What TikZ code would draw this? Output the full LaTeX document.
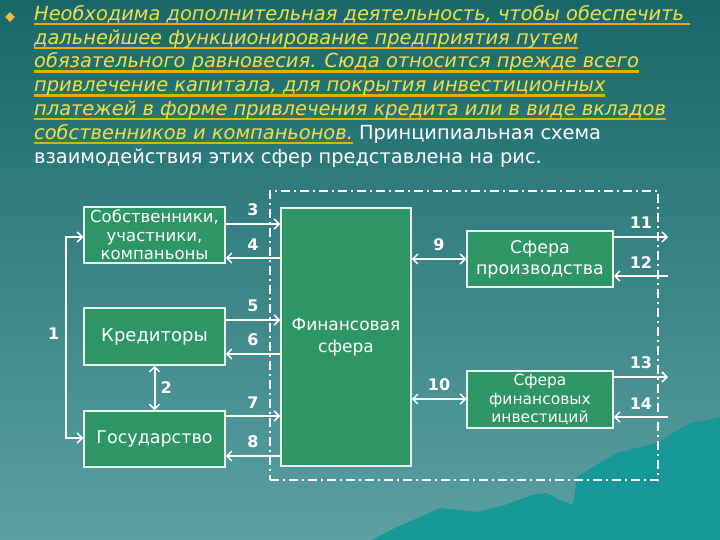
\documentclass[tikz,border=0pt]{standalone}
\usepackage{fontspec}
\setmainfont{DejaVu Sans}
\usetikzlibrary{arrows.meta, positioning, shapes.geometric}

\definecolor{bgtop}{RGB}{24,104,106}
\definecolor{bgbottom}{RGB}{92,160,162}
\definecolor{hillteal}{RGB}{22,152,152}
\definecolor{boxgreen}{RGB}{46,150,100}
\definecolor{boxline}{RGB}{232,244,236}
\definecolor{titleyellow}{RGB}{240,226,70}
\definecolor{lineorange}{RGB}{240,170,0}
\definecolor{bulletorange}{RGB}{240,190,60}

% underlined yellow text line
\newcommand{\yline}[1]{\setbox0\hbox{#1}\rlap{\color{lineorange}\rule[-5pt]{\wd0}{2.5pt}}\box0}

\begin{document}
\begin{tikzpicture}[x=1pt, y=-1pt]

    % Define style
    \tikzstyle{sphere} = [rectangle, draw=boxline, line width=1.5pt, fill=boxgreen, text=white, align=center, inner sep=0pt]
    \tikzstyle{flow} = [draw=white, line width=2pt, -{Straight Barb[length=5pt, width=10pt, line width=1.5pt]}]
    \tikzstyle{twoway} = [draw=white, line width=2pt, {Straight Barb[length=5pt, width=10pt, line width=1.5pt]}-{Straight Barb[length=5pt, width=10pt, line width=1.5pt]}]
    \tikzstyle{num} = [text=white, inner sep=1pt, font=\fontsize{16}{16}\selectfont\bfseries]

    % Background
    \useasboundingbox (0,0) rectangle (720,540);
    \shade[top color=bgtop, bottom color=bgbottom] (0,0) rectangle (720,540);
    \fill[hillteal] (372,540) -- (395,528) -- (413,520) -- (440,508) -- (477,512) -- (505,505) -- (532,495) -- (546,493) -- (560,500) -- (573,505) -- (577,477) -- (593,467) -- (617,453) -- (640,447) -- (657,443) -- (673,433) -- (690,423) -- (707,420) -- (720,417) -- (720,540) -- cycle;

    % Text
    \node[diamond, fill=bulletorange, minimum size=10pt, inner sep=0pt] (bullet) at (10,17) {};
    \node[anchor=north west, align=left, inner sep=0pt, text=titleyellow, font=\fontsize{19.4}{23.8}\selectfont\itshape] (intro) at (34,5) {%
        \yline{Необходима дополнительная деятельность, чтобы обеспечить }\\
        \yline{дальнейшее функционирование предприятия путем}\\
        \yline{обязательного равновесия. Сюда относится прежде всего}\\
        \yline{привлечение капитала, для покрытия инвестиционных}\\
        \yline{платежей в форме привлечения кредита или в виде вкладов}\\
        \yline{собственников и компаньонов.}\ {\upshape\color{white}Принципиальная схема}\\
        {\upshape\color{white}взаимодействия этих сфер представлена на рис.}};

    % Frame
    \node[draw=white, line width=1.3pt, dash pattern=on 9pt off 4pt on 2pt off 4pt, minimum width=388pt, minimum height=289pt, inner sep=0pt] (region) at (464,335.5) {};

    % Spheres
    \node[sphere, minimum width=141pt, minimum height=56pt, font=\fontsize{16.5}{18.5}\selectfont] (owners) at (154.5,235) {Собственники,\\участники,\\компаньоны};
    \node[sphere, minimum width=141pt, minimum height=57pt, font=\fontsize{18}{20}\selectfont] (creditors) at (154.5,336.5) {Кредиторы};
    \node[sphere, minimum width=141pt, minimum height=56pt, font=\fontsize{17.5}{20}\selectfont] (state) at (154.5,439) {Государство};
    \node[sphere, minimum width=130pt, minimum height=258pt, font=\fontsize{17}{22}\selectfont] (finance) at (346,337) {Финансовая\\сфера};
    \node[sphere, minimum width=146pt, minimum height=56pt, font=\fontsize{17.5}{21}\selectfont] (production) at (540,259) {Сфера\\производства};
    \node[sphere, minimum width=146pt, minimum height=57pt, font=\fontsize{15.5}{18.5}\selectfont] (invest) at (540,399.5) {Сфера\\финансовых\\инвестиций};
    \coordinate (outside) at (668,0);

    % Flows between spheres
    \draw[twoway] (owners.west |- 0,237) -- ++(-17,0) |- (state.west |- 0,438) node[num, pos=0.24, left=5pt] {1};
    \draw[twoway] (creditors.south) -- (state.north) node[num, midway, right=4pt] {2};
    \draw[flow] (owners.east |- 0,224) -- (finance.west |- 0,224) node[num, midway, above=6pt] {3};
    \draw[flow] (finance.west |- 0,258) -- (owners.east |- 0,258) node[num, midway, above=6pt] {4};
    \draw[flow] (creditors.east |- 0,320) -- (finance.west |- 0,320) node[num, midway, above=6pt] {5};
    \draw[flow] (finance.west |- 0,354) -- (creditors.east |- 0,354) node[num, midway, above=6pt] {6};
    \draw[flow] (state.east |- 0,416) -- (finance.west |- 0,416) node[num, midway, above=6pt] {7};
    \draw[flow] (finance.west |- 0,456) -- (state.east |- 0,456) node[num, midway, above=6pt] {8};
    \draw[twoway] (finance.east |- 0,259) -- (production.west |- 0,259) node[num, midway, above=6pt] {9};
    \draw[twoway] (finance.east |- 0,399) -- (invest.west |- 0,399) node[num, midway, above=6pt] {10};
    \draw[flow] (production.east |- 0,237) -- (outside |- 0,237) node[num, midway, above=6pt] {11};
    \draw[flow] (outside |- 0,276) -- (production.east |- 0,276) node[num, midway, above=6pt] {12};
    \draw[flow] (invest.east |- 0,377) -- (outside |- 0,377) node[num, midway, above=6pt] {13};
    \draw[flow] (outside |- 0,417) -- (invest.east |- 0,417) node[num, midway, above=6pt] {14};

\end{tikzpicture}
\end{document}
